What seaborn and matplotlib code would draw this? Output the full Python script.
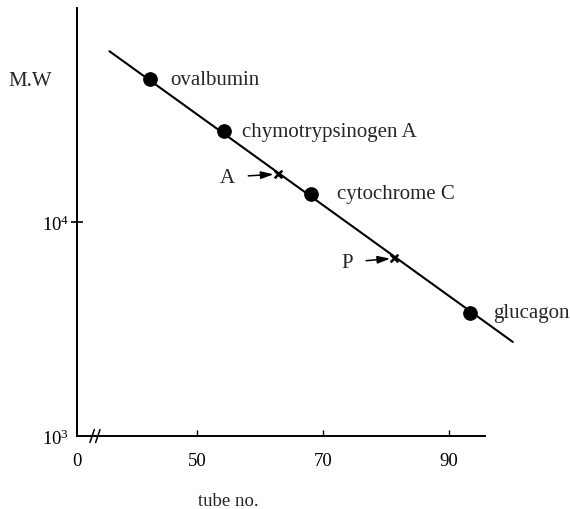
import matplotlib
matplotlib.use("Agg")
import matplotlib.pyplot as plt
import seaborn as sns
import pandas as pd

# standards (tube no., molecular weight)
std_names = ["ovalbumin", "chymotrypsinogen A", "cytochrome C", "glucagon"]
std_tube = [42.5, 54.3, 68.0, 93.3]
std_mw = [46500, 26700, 13600, 3770]

# unknowns marked with crosses
unk_names = ["A", "P"]
unk_tube = [62.8, 81.3]
unk_mw = [16800, 6790]

# calibration line end points
line_tube = [36.1, 100.1]
line_mw = [63000, 2760]

# x axis: left end is shown as "0", then an axis break
x_left = 30.95
x_right = 95.7
x_break = 33.8
xtick_vals = [x_left, 50, 70, 90]
xtick_labels = ["0", "50", "70", "90"]
ytick_vals = [1e3, 1e4]
ytick_labels = ["$10^3$", "$10^4$"]

std_df = pd.DataFrame({"tube": std_tube, "mw": std_mw, "name": std_names})
unk_df = pd.DataFrame({"tube": unk_tube, "mw": unk_mw, "name": unk_names})
line_df = pd.DataFrame({"tube": line_tube, "mw": line_mw})

sns.set_theme(style="white")
plt.rcParams["font.family"] = ["Liberation Serif", "DejaVu Serif"]
plt.rcParams["mathtext.fontset"] = "custom"
plt.rcParams["mathtext.rm"] = "Liberation Serif"
plt.rcParams["mathtext.it"] = "Liberation Serif"

fig = plt.figure(figsize=(5.7, 5.1), dpi=100)
ax = fig.add_axes([77 / 570, 1 - 437.3 / 510, 441.5 / 570, 428 / 510])

sns.lineplot(data=line_df, x="tube", y="mw", color="black", linewidth=1.5, ax=ax)
sns.scatterplot(data=std_df, x="tube", y="mw", color="black", edgecolor="black",
                s=95, zorder=3, ax=ax)
sns.scatterplot(data=unk_df, x="tube", y="mw", color="black", marker="x",
                s=30, linewidth=1.8, zorder=3, ax=ax)

ax.set_yscale("log")
ax.set_ylim(1e3, 1e5)
ax.set_xlim(x_left, 101)
ax.minorticks_off()

for s in ["top", "right"]:
    ax.spines[s].set_visible(False)
for s in ["left", "bottom"]:
    ax.spines[s].set_linewidth(1.4)
    ax.spines[s].set_color("black")
ax.spines["bottom"].set_bounds(x_left, x_right)

ax.set_xticks(xtick_vals)
ax.set_xticklabels(xtick_labels)
ax.set_yticks(ytick_vals)
ax.set_yticklabels(ytick_labels)
ax.tick_params(axis="x", direction="in", length=4.5, width=1, pad=11,
               labelsize=13.5, colors="black", bottom=True)
ax.tick_params(axis="y", direction="inout", length=9, width=1.2, pad=1,
               labelsize=13.5, colors="black", left=True)
ax.xaxis.get_major_ticks()[0].tick1line.set_visible(False)
ax.yaxis.get_major_ticks()[0].tick1line.set_visible(False)
ax.set_xlabel("")
ax.set_ylabel("")

# axis break marks
for dx in (-0.45, 0.45):
    ax.plot([x_break + dx - 0.35, x_break + dx + 0.35], [935, 1075], color="black",
            linewidth=1.1, clip_on=False, zorder=4)

# labels for standards
std_offsets = [(20, 0), (18, 0), (26, 0), (23, 0)]
for (_, r), off in zip(std_df.iterrows(), std_offsets):
    ax.annotate(r["name"], (r["tube"], r["mw"]), xytext=off,
                textcoords="offset pixels", va="center", ha="left", fontsize=15)

# arrows for unknowns
unk_offsets = [(-50, -3), (-47, -4)]
for (_, r), off in zip(unk_df.iterrows(), unk_offsets):
    ax.annotate(r["name"], (r["tube"], r["mw"]), xytext=off,
                textcoords="offset pixels", va="center", ha="center", fontsize=15,
                arrowprops=dict(arrowstyle="-|>,head_length=0.5,head_width=0.15",
                                color="black", lw=1.1, shrinkA=7, shrinkB=3))

fig.text(30 / 570, 1 - 82 / 510, "M.W", ha="center", va="center", fontsize=15)
fig.text(228 / 570, 1 - 502 / 510, "tube no.", ha="center", va="center", fontsize=13.5)

fig.savefig("out.png", dpi=100)
